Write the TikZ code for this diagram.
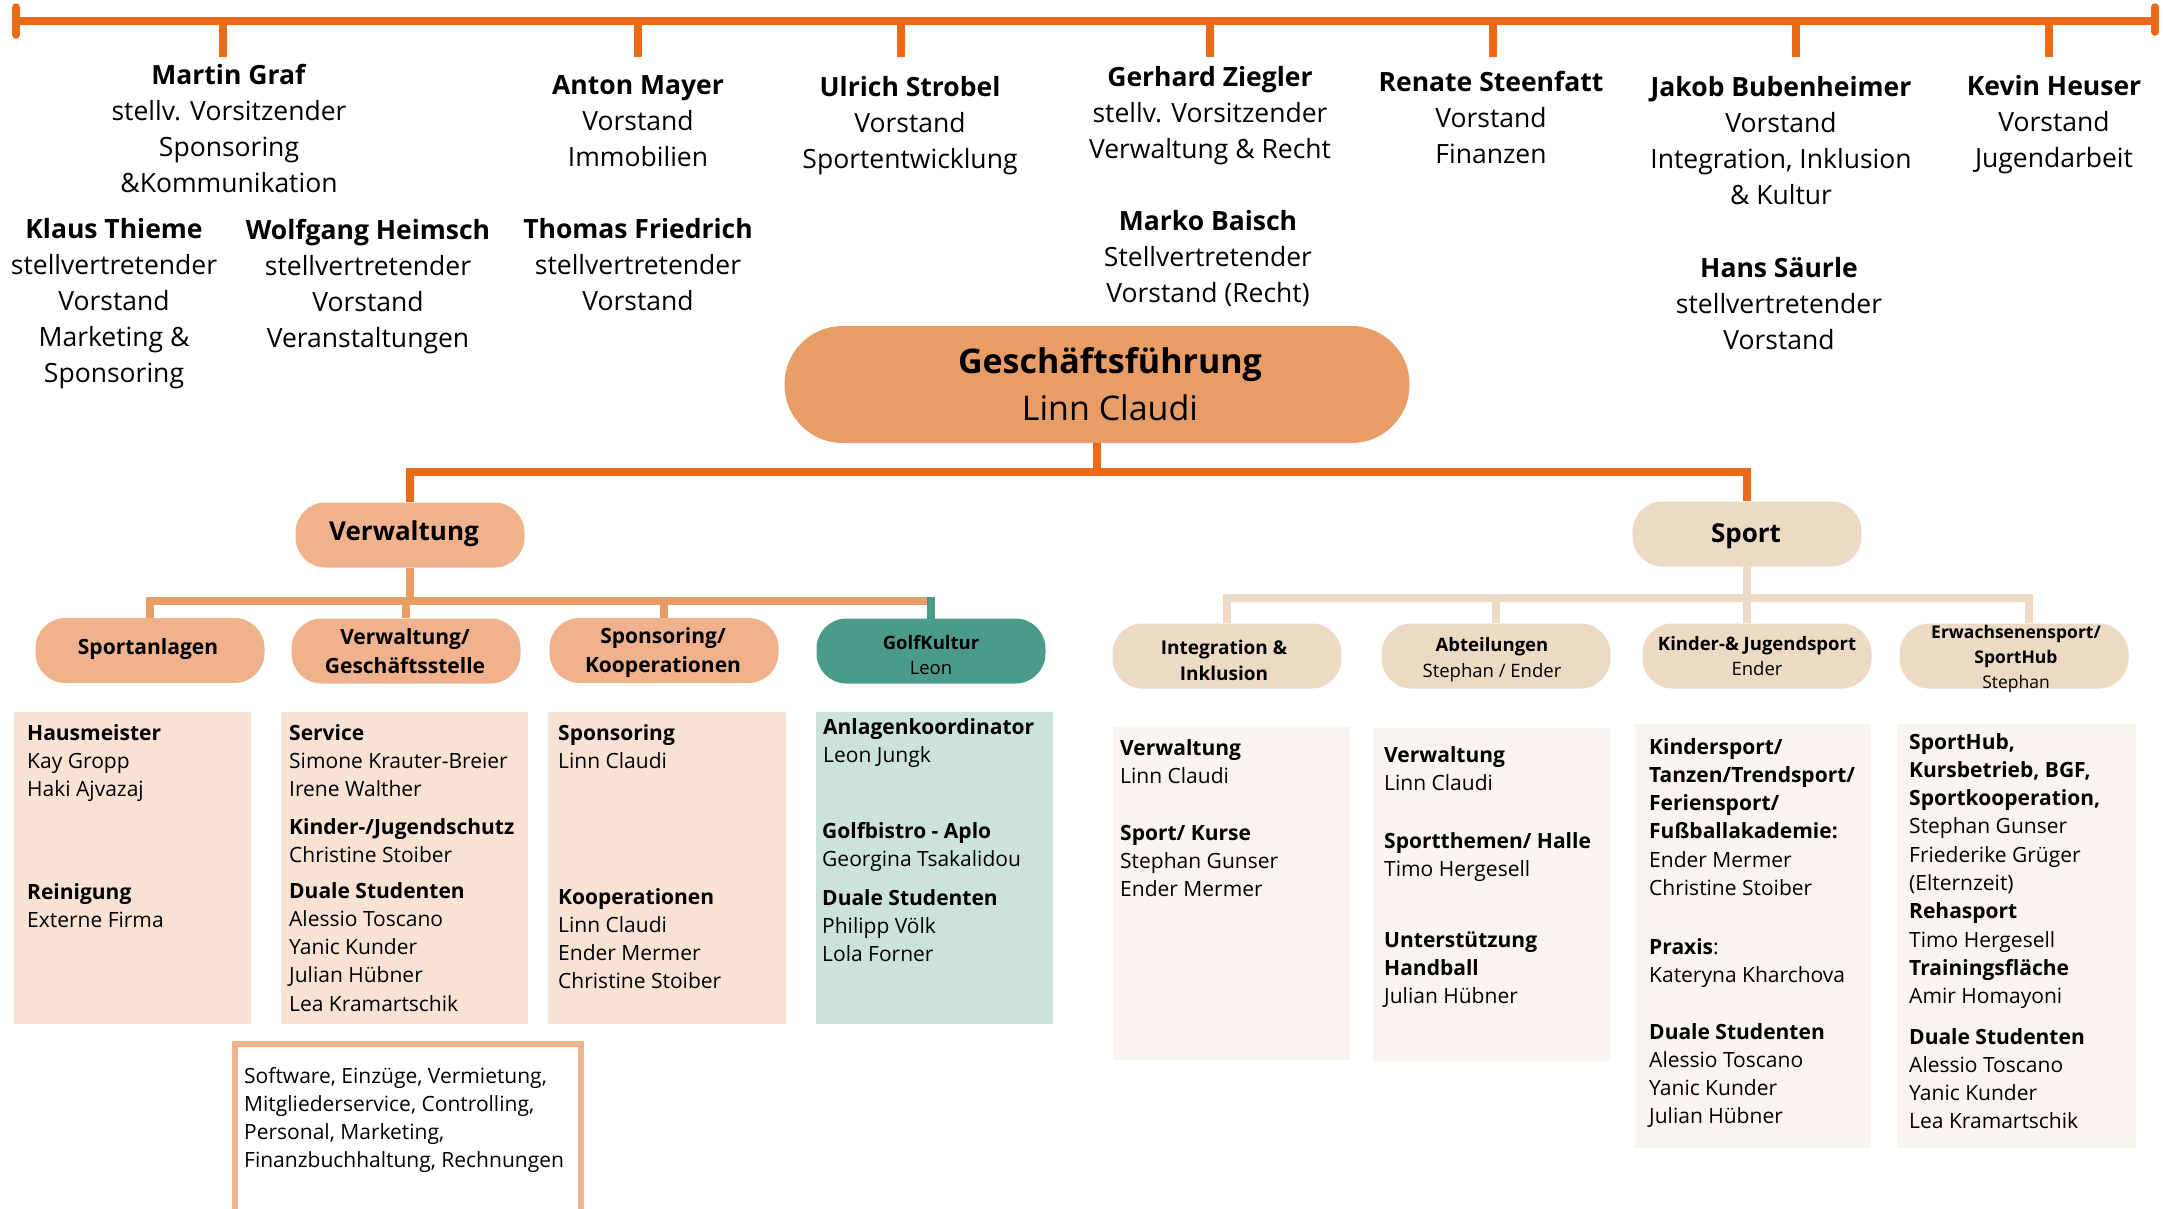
\documentclass[tikz,border=0pt]{standalone}
\usepackage{fontspec}
\setmainfont{Open Sans}
\usetikzlibrary{calc}
\definecolor{darkor}{HTML}{E96A17}
\definecolor{gfcol}{HTML}{E89C66}
\definecolor{vwcol}{HTML}{EFB28D}
\definecolor{sportcol}{HTML}{EDDAC4}
\definecolor{golfcol}{HTML}{4B9B89}
\definecolor{peach}{HTML}{F8E2D4}
\definecolor{lteal}{HTML}{CCE3DC}
\definecolor{cream}{HTML}{F8F4EF}
\newcommand{\cblock}[1]{\begin{tabular}[t]{@{}c@{}}#1\end{tabular}}
\newcommand{\lblock}[1]{\begin{tabular}[t]{@{}l@{}}#1\end{tabular}}
\tikzset{
  board/.style={anchor=base, inner sep=0pt, font=\fontsize{26.5}{36}\selectfont},
  detail/.style={anchor=base west, inner sep=0pt, font=\fontsize{21}{28.3}\selectfont},
  barline/.style={draw=darkor, line width=7.5pt},
  mainline/.style={draw=darkor, line width=7.5pt, line join=miter},
  vwline/.style={draw=gfcol, line width=7.5pt, line join=miter},
  spline/.style={draw=sportcol, line width=7.5pt, line join=miter},
  golfline/.style={draw=golfcol, line width=7.5pt, line cap=rect},
  subnode/.style={rounded corners=30pt, minimum width=229pt, minimum height=65pt, inner sep=0pt},
  subtext/.style={inner sep=0pt, align=center},
  boxnode/.style={inner sep=0pt, draw=none},
}
\begin{document}
\begin{tikzpicture}[x=1pt,y=-1pt]
\useasboundingbox (0,0) rectangle (2163,1208);
\fill[white] (0,0) rectangle (2163,1208);

% top bar
\coordinate (barL) at (16,21);
\coordinate (barR) at (2155,21);
\draw[barline] (barL) -- (barR);
\draw[barline, line cap=round] (16,7) -- (16,35);
\draw[barline, line cap=round] (2155,7) -- (2155,32);
\foreach \x/\n in {223/t1,638/t2,901/t3,1210/t4,1493/t5,1796/t6,2049/t7}{
  \coordinate (\n) at (\x,57);
  \draw[barline] (barL -| \n) -- (\n);
}

% board members
\node[board] (m1) at (229,84) {\cblock{\textbf{Martin Graf}\\stellv. Vorsitzender\\Sponsoring\\\&Kommunikation}};
\node[board] (m2) at (638,94) {\cblock{\textbf{Anton Mayer}\\Vorstand\\Immobilien}};
\node[board] (m3) at (910,96) {\cblock{\textbf{Ulrich Strobel}\\Vorstand\\Sportentwicklung}};
\node[board] (m4) at (1210,86) {\cblock{\textbf{Gerhard Ziegler}\\stellv. Vorsitzender\\Verwaltung \& Recht}};
\node[board] (m5) at (1491,91) {\cblock{\textbf{Renate Steenfatt}\\Vorstand\\Finanzen}};
\node[board] (m6) at (1781,96) {\cblock{\textbf{Jakob Bubenheimer}\\Vorstand\\Integration, Inklusion\\\& Kultur}};
\node[board] (m7) at (2054,95) {\cblock{\textbf{Kevin Heuser}\\Vorstand\\Jugendarbeit}};
\node[board] (m8) at (114,238) {\cblock{\textbf{Klaus Thieme}\\stellvertretender\\Vorstand\\Marketing \&\\Sponsoring}};
\node[board] (m9) at (368,239) {\cblock{\textbf{Wolfgang Heimsch}\\stellvertretender\\Vorstand\\Veranstaltungen}};
\node[board] (m10) at (638,238) {\cblock{\textbf{Thomas Friedrich}\\stellvertretender\\Vorstand}};
\node[board] (m11) at (1208,230) {\cblock{\textbf{Marko Baisch}\\Stellvertretender\\Vorstand (Recht)}};
\node[board] (m12) at (1779,277) {\cblock{\textbf{Hans Säurle}\\stellvertretender\\Vorstand}};

% Geschaeftsfuehrung
\node[fill=gfcol, rounded corners=58pt, minimum width=625pt, minimum height=117pt, inner sep=0pt] (gf) at (1097,384.5) {};
\node[subtext, font=\fontsize{34}{47}\selectfont] (gft) at (1110,384) {\textbf{Geschäftsführung}\\Linn Claudi};

% level 2
\node[subnode, fill=vwcol] (verw) at (410,535) {};
\node[subtext, font=\fontsize{26}{34}\selectfont\bfseries] (verwt) at (404,534) {Verwaltung};
\node[subnode, fill=sportcol] (sport) at (1747,534) {};
\node[subtext, font=\fontsize{26}{34}\selectfont\bfseries] (sportt) at (1746,536) {Sport};

\coordinate (jm) at (1097,472);
\draw[mainline] (gf.south) -- (jm);
\draw[mainline] (verw.north) |- (jm) -| (sport.north);

% Verwaltung children
\node[subnode, fill=vwcol] (sa) at (150,650.5) {};
\node[subtext, font=\fontsize{21}{28.7}\selectfont\bfseries] (sat) at (148,649) {Sportanlagen};
\node[subnode, fill=vwcol] (vg) at (406,651) {};
\node[subtext, font=\fontsize{21}{28.7}\selectfont\bfseries] (vgt) at (405,651) {Verwaltung/\\Geschäftsstelle};
\node[subnode, fill=vwcol] (sk) at (664,650.5) {};
\node[subtext, font=\fontsize{21}{28.7}\selectfont\bfseries] (skt) at (663,652.5) {Sponsoring/\\Kooperationen};
\node[subnode, fill=golfcol] (golf) at (931,651) {};
\node[subtext, font=\fontsize{18.5}{25}\selectfont] (golft) at (931,655) {\textbf{GolfKultur}\\Leon};

\coordinate (vj) at (410,601);
\draw[vwline] (verw.south) -- (vj);
\draw[vwline] (sa.north) |- (golf.north |- vj);
\draw[vwline] (vg.north) -- (vg.north |- vj);
\draw[vwline] (sk.north) -- (sk.north |- vj);
\draw[golfline] (golf.north) -- ($(golf.north |- vj)+(0,-0.5)$);

% Sport children
\node[subnode, fill=sportcol] (ii) at (1227,656) {};
\node[subtext, font=\fontsize{19}{26}\selectfont\bfseries] (iit) at (1224,660) {Integration \&\\Inklusion};
\node[subnode, fill=sportcol] (ab) at (1496,656) {};
\node[subtext, font=\fontsize{18.5}{26}\selectfont] (abt) at (1492,660) {\textbf{Abteilungen}\\Stephan / Ender};
\node[subnode, fill=sportcol] (kj) at (1757,656) {};
\node[subtext, font=\fontsize{18.5}{25}\selectfont] (kjt) at (1757,656) {\textbf{Kinder-\& Jugendsport}\\Ender};
\node[subnode, fill=sportcol] (ew) at (2014,656) {};
\node[subtext, font=\fontsize{17.5}{25}\selectfont] (ewt) at (2016,659) {\textbf{Erwachsenensport/}\\\textbf{SportHub}\\Stephan};

\coordinate (sj) at (1747,598);
\coordinate (ewd) at ($(ew.north)+(15,0)$);
\draw[spline] (sport.south) -- (sport.south |- kj.north);
\draw[spline] (ii.north) |- (ewd |- sj) -- (ewd);
\draw[spline] (ab.north) -- (ab.north |- sj);

% detail boxes
\node[boxnode, fill=peach, minimum width=237pt, minimum height=312pt] (b1) at (132.5,868) {};
\node[boxnode, fill=peach, minimum width=247pt, minimum height=312pt] (b2) at (404.5,868) {};
\node[boxnode, fill=peach, minimum width=238pt, minimum height=312pt] (b3) at (667,868) {};
\node[boxnode, fill=lteal, minimum width=237pt, minimum height=312pt] (b4) at (934.5,868) {};
\node[boxnode, fill=cream, minimum width=237pt, minimum height=333pt] (b6) at (1231.5,893.5) {};
\node[boxnode, fill=cream, minimum width=237pt, minimum height=333pt] (b7) at (1491.5,894.5) {};
\node[boxnode, fill=cream, minimum width=236pt, minimum height=424pt] (b8) at (1753,936) {};
\node[boxnode, fill=cream, minimum width=239pt, minimum height=424pt] (b9) at (2016.5,936) {};
\node[boxnode, draw=vwcol, line width=6pt, minimum width=346pt, minimum height=190pt] (b5) at (407.5,1138.5) {};

% detail texts
\node[detail] (d1a) at (27,740) {\lblock{\textbf{Hausmeister}\\Kay Gropp\\Haki Ajvazaj}};
\node[detail] (d1b) at (27,899) {\lblock{\textbf{Reinigung}\\Externe Firma}};

\node[detail] (d2a) at (289,740) {\lblock{\textbf{Service}\\Simone Krauter-Breier\\Irene Walther}};
\node[detail] (d2b) at (289,834) {\lblock{\textbf{Kinder-/Jugendschutz}\\Christine Stoiber}};
\node[detail] (d2c) at (289,898) {\lblock{\textbf{Duale Studenten}\\Alessio Toscano\\Yanic Kunder\\Julian Hübner\\Lea Kramartschik}};

\node[detail] (d3a) at (558,740) {\lblock{\textbf{Sponsoring}\\Linn Claudi}};
\node[detail] (d3b) at (558,904) {\lblock{\textbf{Kooperationen}\\Linn Claudi\\Ender Mermer\\Christine Stoiber}};

\node[detail] (d4a) at (823,734) {\lblock{\textbf{Anlagenkoordinator}\\Leon Jungk}};
\node[detail] (d4b) at (822,838) {\lblock{\textbf{Golfbistro - Aplo}\\Georgina Tsakalidou}};
\node[detail] (d4c) at (822,905) {\lblock{\textbf{Duale Studenten}\\Philipp Völk\\Lola Forner}};

\node[detail] (d5) at (244,1083) {\lblock{Software, Einzüge, Vermietung,\\Mitgliederservice, Controlling,\\Personal, Marketing,\\Finanzbuchhaltung, Rechnungen}};

\node[detail] (d6a) at (1120,755) {\lblock{\textbf{Verwaltung}\\Linn Claudi}};
\node[detail] (d6b) at (1120,840) {\lblock{\textbf{Sport/ Kurse}\\Stephan Gunser\\Ender Mermer}};

\node[detail] (d7a) at (1384,762) {\lblock{\textbf{Verwaltung}\\Linn Claudi}};
\node[detail] (d7b) at (1384,848) {\lblock{\textbf{Sportthemen/ Halle}\\Timo Hergesell}};
\node[detail] (d7c) at (1384,947) {\lblock{\textbf{Unterstützung}\\\textbf{Handball}\\Julian Hübner}};

\node[detail] (d8a) at (1649,754) {\lblock{\textbf{Kindersport/}\\\textbf{Tanzen/Trendsport/}\\\textbf{Feriensport/}\\\textbf{Fußballakademie:}\\Ender Mermer\\Christine Stoiber}};
\node[detail] (d8b) at (1649,954) {\lblock{\textbf{Praxis}:\\Kateryna Kharchova}};
\node[detail] (d8c) at (1649,1039) {\lblock{\textbf{Duale Studenten}\\Alessio Toscano\\Yanic Kunder\\Julian Hübner}};

\node[detail] (d9a) at (1909,749) {\lblock{\textbf{SportHub,}\\\textbf{Kursbetrieb, BGF,}\\\textbf{Sportkooperation,}\\Stephan Gunser\\Friederike Grüger\\(Elternzeit)\\\textbf{Rehasport}\\Timo Hergesell\\\textbf{Trainingsfläche}\\Amir Homayoni}};
\node[detail] (d9b) at (1909,1044) {\lblock{\textbf{Duale Studenten}\\Alessio Toscano\\Yanic Kunder\\Lea Kramartschik}};
\end{tikzpicture}
\end{document}
